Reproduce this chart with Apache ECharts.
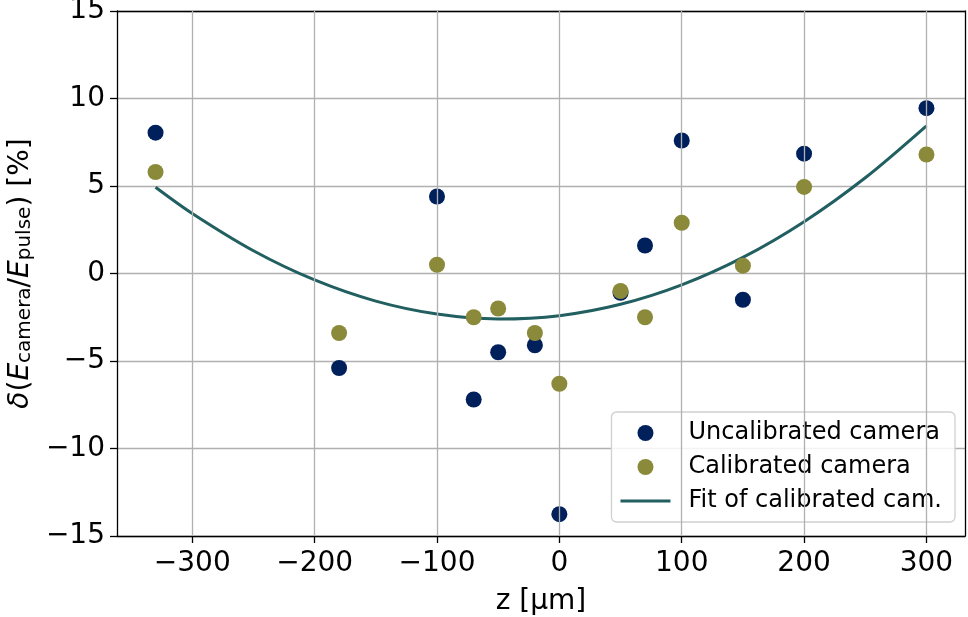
<!DOCTYPE html>
<html>
<head>
<meta charset="utf-8">
<script src="https://cdn.jsdelivr.net/npm/echarts@6/dist/echarts.min.js"></script>
<style>
  html, body { margin: 0; padding: 0; background: #fff; }
  #chart { width: 968px; height: 617px; }
</style>
</head>
<body>
<div id="chart"></div>
<script>
// positions along z [µm]
const zPos = [-330, -180, -100, -70, -50, -20, 0, 50, 70, 100, 150, 200, 300];
const uncalibrated = [8.05, -5.4, 4.4, -7.2, -4.5, -4.1, -13.75, -1.1, 1.6, 7.6, -1.5, 6.85, 9.45];
const calibrated = [5.8, -3.4, 0.5, -2.5, -2.0, -3.4, -6.3, -1.0, -2.5, 2.9, 0.45, 4.95, 6.8];
// fit curve
const fitZ = [-330, -300, -250, -200, -150, -100, -50, 0, 50, 100, 150, 200, 250, 300];
const fitVal = [4.93, 3.43, 1.3, -0.37, -1.58, -2.32, -2.6, -2.41, -1.76, -0.65, 0.92, 2.96, 5.47, 8.44];
const xTicks = [-300, -200, -100, 0, 100, 200, 300];

const font = 'DejaVu Sans';
const gridColor = '#b0b0b0';
const X_MIN = -361.5, X_MAX = 331.5;

function pairs(xs, ys) {
  return xs.map((x, i) => [x, ys[i]]);
}
const minus = v => String(v).replace('-', '\u2212');

const chart = echarts.init(document.getElementById('chart'));
chart.setOption({
  animation: false,
  textStyle: { fontFamily: font },
  grid: { left: 117, right: 3, top: 11, bottom: 81, containLabel: false, outerBoundsMode: 'none' },
  xAxis: [{
    type: 'value',
    min: X_MIN,
    max: X_MAX,
    name: 'z [µm]',
    nameLocation: 'middle',
    nameGap: 52,
    nameTextStyle: { fontSize: 28, color: '#000', fontFamily: font },
    axisLine: { onZero: false, lineStyle: { color: '#000', width: 1.3 } },
    axisTick: { customValues: xTicks, length: 7, lineStyle: { color: '#000', width: 1.3 } },
    axisLabel: { customValues: xTicks, fontSize: 28, color: '#000', margin: 14, formatter: minus },
    splitLine: { show: false }
  }, {
    type: 'value',
    position: 'top',
    min: X_MIN,
    max: X_MAX,
    axisLine: { show: true, onZero: false, lineStyle: { color: '#000', width: 1.3 } },
    axisTick: { show: false },
    axisLabel: { show: false },
    splitLine: { show: false }
  }],
  yAxis: [{
    type: 'value',
    min: -15,
    max: 15,
    interval: 5,
    name: '{i|δ}{n|(}{i|E}{s|camera}{n|/}{i|E}{s|pulse}{n|) [%]}',
    nameLocation: 'middle',
    nameGap: 80,
    nameRotate: 90,
    nameTextStyle: {
      color: '#000',
      rich: {
        i: { fontSize: 28, fontStyle: 'italic', fontFamily: font, color: '#000', verticalAlign: 'bottom', lineHeight: 36 },
        n: { fontSize: 28, fontFamily: font, color: '#000', verticalAlign: 'bottom', lineHeight: 36 },
        s: { fontSize: 20, fontFamily: font, color: '#000', verticalAlign: 'bottom', lineHeight: 28 }
      }
    },
    axisLine: { show: true, onZero: false, lineStyle: { color: '#000', width: 1.3 } },
    axisTick: { show: true, length: 7, lineStyle: { color: '#000', width: 1.3 } },
    axisLabel: { fontSize: 28, color: '#000', margin: 12, formatter: minus },
    splitLine: { show: true, lineStyle: { color: gridColor, width: 1.3 } }
  }, {
    type: 'value',
    position: 'right',
    min: -15,
    max: 15,
    interval: 5,
    axisLine: { show: true, onZero: false, lineStyle: { color: '#000', width: 1.3 } },
    axisTick: { show: false },
    axisLabel: { show: false },
    splitLine: { show: false }
  }],
  legend: {
    right: 13,
    bottom: 95,
    orient: 'vertical',
    backgroundColor: 'rgba(255,255,255,0.85)',
    borderColor: '#d0d0d0',
    borderWidth: 1.3,
    borderRadius: 5,
    padding: [9, 13, 9, 9],
    itemGap: 10,
    itemWidth: 50,
    itemHeight: 16,
    textStyle: { fontSize: 24, color: '#000', fontFamily: font, padding: [0, 0, 0, 13] },
    data: [
      { name: 'Uncalibrated camera', icon: 'circle' },
      { name: 'Calibrated camera', icon: 'circle' },
      { name: 'Fit of calibrated cam.', icon: 'path://M0,0 L50,0 L50,3 L0,3 Z' }
    ]
  },
  series: [
    {
      name: 'grid',
      type: 'line',
      data: [],
      silent: true,
      markLine: {
        symbol: 'none',
        silent: true,
        label: { show: false },
        lineStyle: { color: gridColor, width: 1.3, type: 'solid' },
        data: xTicks.map(v => ({ xAxis: v }))
      }
    },
    {
      name: 'Fit of calibrated cam.',
      type: 'line',
      data: pairs(fitZ, fitVal),
      smooth: 0.3,
      showSymbol: false,
      symbol: 'none',
      z: 3,
      itemStyle: { color: '#225f60' },
      lineStyle: { color: '#225f60', width: 3 }
    },
    {
      name: 'Uncalibrated camera',
      type: 'scatter',
      data: pairs(zPos, uncalibrated),
      symbolSize: 16,
      z: 4,
      itemStyle: { color: '#00205b', opacity: 1 }
    },
    {
      name: 'Calibrated camera',
      type: 'scatter',
      data: pairs(zPos, calibrated),
      symbolSize: 16,
      z: 5,
      itemStyle: { color: '#8a8a3a', opacity: 1 }
    }
  ]
});
</script>
</body>
</html>
